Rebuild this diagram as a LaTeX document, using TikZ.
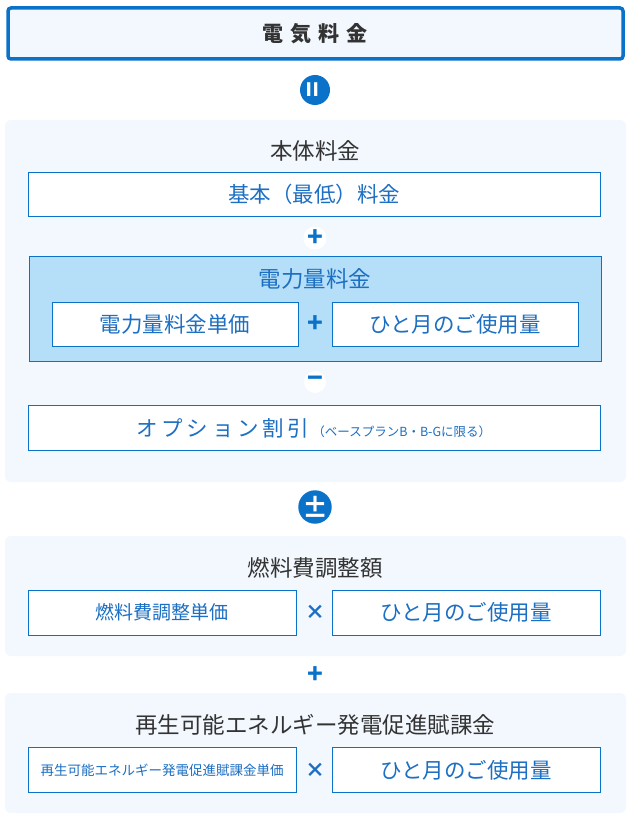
\documentclass[tikz,border=0pt]{standalone}
\usepackage{fontspec}
\setmainfont{Noto Sans CJK JP}
\usetikzlibrary{positioning}
\definecolor{mainblue}{HTML}{0B72C9}
\definecolor{textblue}{HTML}{1C6FC2}
\definecolor{panelbg}{HTML}{F2F8FE}
\definecolor{kwhbg}{HTML}{B5DEF8}
\definecolor{titlegray}{HTML}{333333}
\tikzset{
    panel/.style={fill=panelbg, draw=none, rounded corners=6pt},
    itembox/.style={draw=mainblue, line width=0.9pt, fill=white},
    itemtext/.style={text=textblue, font=\fontsize{21.5}{25}\selectfont},
    paneltitle/.style={text=titlegray, font=\fontsize{22.5}{26}\selectfont},
    opcircle/.style={circle, fill=mainblue, text=white, minimum size=30pt, inner sep=0pt, font=\fontsize{26}{26}\selectfont\bfseries},
    opwhite/.style={circle, fill=white, text=mainblue, minimum size=22pt, inner sep=0pt, font=\fontsize{26}{26}\selectfont\bfseries},
    optext/.style={text=mainblue, font=\fontsize{26}{26}\selectfont\bfseries}
}
\begin{document}
\begin{tikzpicture}[x=1pt,y=-1pt]
    \useasboundingbox (0,0) rectangle (631,813);
    % total
    \draw[fill=panelbg, draw=mainblue, line width=3.5pt, rounded corners=3pt] (8,8) rectangle (623,59);
    \node[text=titlegray, font=\fontsize{21}{24}\selectfont\bfseries] (total) at (315,34) {電\,\,気\,\,料\,\,金};
    \node[opcircle] (eq) at (315,90) {\rotatebox{90}{=}};
    % basic charge panel
    \draw[panel] (5,120) rectangle (626,482);
    \node[paneltitle] (honntai) at (315,151) {本体料金};
    \draw[itembox] (28,172) rectangle (600,216);
    \node[itemtext] (kihon) at (314,194) {基本（最低）料金};
    \node[opwhite] (plusa) at (315,238) {+};
    \draw[draw=mainblue, line width=0.9pt, fill=kwhbg] (29,256) rectangle (601,361);
    \node[text=textblue, font=\fontsize{22.5}{26}\selectfont] (kwh) at (315,279) {電力量料金};
    \draw[itembox] (52,302) rectangle (298,346);
    \node[itemtext] (tanka) at (175,324) {電力量料金単価};
    \node[optext] (plusb) at (315,324) {+};
    \draw[itembox] (332,302) rectangle (578,346);
    \node[itemtext] (usea) at (455,324) {ひと月のご使用量};
    \node[opwhite] (minus) at (315,382) {−};
    \draw[itembox] (28,405) rectangle (600,450);
    \node[itemtext] (option) at (314,428) {オ\,プ\,シ\,ョ\,ン\,割\,引\,{\fontsize{12.5}{13}\selectfont（ベースプランB・B-Gに限る）}};
    \node[opcircle] (pm) at (315,507) {±};
    % fuel adjustment panel
    \draw[panel] (5,536) rectangle (626,656);
    \node[paneltitle] (fuel) at (315,568) {燃料費調整額};
    \draw[itembox] (28,590) rectangle (296,635);
    \node[itemtext, font=\fontsize{19}{22}\selectfont] (fueltanka) at (162,612) {燃料費調整単価};
    \node[text=textblue, font=\fontsize{20}{20}\selectfont\bfseries] (timesa) at (315,612) {×};
    \draw[itembox] (332,590) rectangle (600,635);
    \node[itemtext] (useb) at (466,612) {ひと月のご使用量};
    \node[optext] (plusc) at (315,675) {+};
    % renewable energy panel
    \draw[panel] (5,693) rectangle (626,813);
    \node[paneltitle] (renew) at (315,725) {再生可能エネルギー発電促進賦課金};
    \draw[itembox] (28,747) rectangle (296,792);
    \node[text=textblue, font=\fontsize{13.5}{15}\selectfont] (renewtanka) at (162,770) {再生可能エネルギー発電促進賦課金単価};
    \node[text=textblue, font=\fontsize{20}{20}\selectfont\bfseries] (timesb) at (315,770) {×};
    \draw[itembox] (332,747) rectangle (600,792);
    \node[itemtext] (usec) at (466,770) {ひと月のご使用量};
\end{tikzpicture}
\end{document}
